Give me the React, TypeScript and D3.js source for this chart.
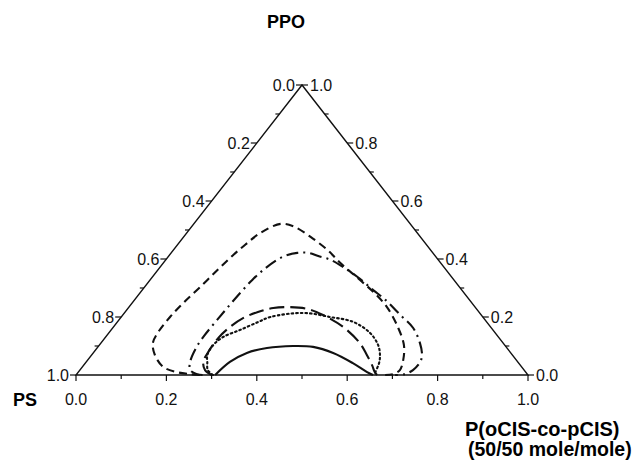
import * as d3 from 'd3';
import React, { useEffect, useRef } from 'react';

// ternary points as [oCIS fraction, PPO fraction]; PS = 1 - both
const solidCurve: [number, number][] = [
  [0.308, 0], [0.318, 0.045], [0.340, 0.076], [0.376, 0.093], [0.430, 0.100],
  [0.476, 0.097], [0.531, 0.076], [0.592, 0.041], [0.639, 0.010], [0.657, 0],
];

const dottedCurve: [number, number][] = [
  [0.303, 0], [0.283, 0.017], [0.268, 0.045], [0.256, 0.069], [0.252, 0.103],
  [0.260, 0.131], [0.285, 0.155], [0.312, 0.183], [0.330, 0.200], [0.396, 0.214],
  [0.462, 0.200], [0.522, 0.183], [0.578, 0.145], [0.617, 0.103], [0.638, 0.069],
  [0.650, 0.041], [0.658, 0.007], [0.660, 0],
];

const longDashCurve: [number, number][] = [
  [0.300, 0], [0.277, 0.017], [0.259, 0.045], [0.253, 0.079], [0.251, 0.128],
  [0.258, 0.166], [0.272, 0.197], [0.294, 0.217], [0.321, 0.231], [0.357, 0.234],
  [0.398, 0.228], [0.443, 0.207], [0.508, 0.166], [0.573, 0.110], [0.609, 0.069],
  [0.638, 0.034], [0.656, 0.010], [0.666, 0],
];

const dashDotCurve: [number, number][] = [
  [0.280, 0], [0.266, 0.003], [0.244, 0.017], [0.230, 0.045], [0.219, 0.093],
  [0.216, 0.134], [0.217, 0.183], [0.219, 0.234], [0.222, 0.286], [0.226, 0.328],
  [0.233, 0.362], [0.253, 0.407], [0.279, 0.421], [0.304, 0.421], [0.331, 0.410],
  [0.365, 0.397], [0.405, 0.372], [0.454, 0.338], [0.511, 0.293], [0.555, 0.259],
  [0.614, 0.207], [0.665, 0.162], [0.706, 0.110], [0.731, 0.069], [0.739, 0.045],
  [0.737, 0.017], [0.726, 0.003], [0.706, 0],
];

const dashedCurve: [number, number][] = [
  [0.274, 0], [0.250, 0.003], [0.218, 0.010], [0.179, 0.028], [0.140, 0.069],
  [0.115, 0.110], [0.108, 0.148], [0.108, 0.200], [0.113, 0.248], [0.123, 0.303],
  [0.132, 0.362], [0.141, 0.414], [0.150, 0.450], [0.163, 0.490], [0.192, 0.521],
  [0.226, 0.512], [0.281, 0.476], [0.341, 0.431], [0.392, 0.386], [0.454, 0.336],
  [0.515, 0.286], [0.571, 0.234], [0.632, 0.162], [0.674, 0.103], [0.698, 0.052],
  [0.708, 0.017], [0.700, 0.003], [0.684, 0],
];

const majorTicks = [0, 0.2, 0.4, 0.6, 0.8, 1.0];
const minorTicks = [0.1, 0.3, 0.5, 0.7, 0.9];

const App = () => {
  const chartRef = useRef<SVGSVGElement>(null);

  useEffect(() => {
    const svg = d3.select(chartRef.current);
    svg.selectAll('*').remove();

    // bottom edge runs 76..528, top vertex at y 85
    const x = d3.scaleLinear().domain([0, 1]).range([76, 528]);
    const y = d3.scaleLinear().domain([0, 1]).range([375, 85]);
    const px = (cis: number, ppo: number) => x(cis + ppo / 2);
    const py = (ppo: number) => y(ppo);

    const font = "'Liberation Sans', Arial, sans-serif";
    const g = svg.append('g');

    // triangle frame
    g.append('path')
      .attr('d', `M${px(0, 0)},${py(0)}L${px(1, 0)},${py(0)}L${px(0, 1)},${py(1)}Z`)
      .attr('fill', 'none')
      .attr('stroke', '#111')
      .attr('stroke-width', 1.4);

    // bottom axis (oCIS), ticks downward
    majorTicks.forEach((v) => {
      g.append('line')
        .attr('x1', px(v, 0)).attr('x2', px(v, 0))
        .attr('y1', py(0)).attr('y2', py(0) + 6)
        .attr('stroke', '#111').attr('stroke-width', 1.2);
      g.append('text')
        .attr('x', px(v, 0)).attr('y', 405)
        .attr('text-anchor', 'middle')
        .attr('font-family', font).attr('font-size', 16)
        .attr('fill', '#111')
        .text(v.toFixed(1));
    });
    minorTicks.forEach((v) => {
      g.append('line')
        .attr('x1', px(v, 0)).attr('x2', px(v, 0))
        .attr('y1', py(0)).attr('y2', py(0) + 4)
        .attr('stroke', '#111').attr('stroke-width', 1.2);
    });

    // left edge (PS), labels grow toward bottom-left, ticks point left
    majorTicks.forEach((v) => {
      const ex = px(0, 1 - v), ey = py(1 - v);
      g.append('line')
        .attr('x1', ex).attr('x2', ex - 6)
        .attr('y1', ey).attr('y2', ey)
        .attr('stroke', '#111').attr('stroke-width', 1.2);
      g.append('text')
        .attr('x', ex - 7).attr('y', ey + 6)
        .attr('text-anchor', 'end')
        .attr('font-family', font).attr('font-size', 16)
        .attr('fill', '#111')
        .text(v.toFixed(1));
    });
    minorTicks.forEach((v) => {
      const ex = px(0, 1 - v), ey = py(1 - v);
      g.append('line')
        .attr('x1', ex).attr('x2', ex - 4)
        .attr('y1', ey).attr('y2', ey)
        .attr('stroke', '#111').attr('stroke-width', 1.2);
    });

    // right edge (PPO), ticks point right
    majorTicks.forEach((v) => {
      const ex = px(1 - v, v), ey = py(v);
      g.append('line')
        .attr('x1', ex).attr('x2', ex + 6)
        .attr('y1', ey).attr('y2', ey)
        .attr('stroke', '#111').attr('stroke-width', 1.2);
      g.append('text')
        .attr('x', ex + 8).attr('y', ey + 6)
        .attr('text-anchor', 'start')
        .attr('font-family', font).attr('font-size', 16)
        .attr('fill', '#111')
        .text(v.toFixed(1));
    });
    minorTicks.forEach((v) => {
      const ex = px(1 - v, v), ey = py(v);
      g.append('line')
        .attr('x1', ex).attr('x2', ex + 4)
        .attr('y1', ey).attr('y2', ey)
        .attr('stroke', '#111').attr('stroke-width', 1.2);
    });

    // contour curves
    const line = d3.line<[number, number]>()
      .x((d) => px(d[0], d[1]))
      .y((d) => py(d[1]))
      .curve(d3.curveCatmullRom.alpha(0.5));

    const curves: { data: [number, number][]; dash: string | null }[] = [
      { data: solidCurve, dash: null },
      { data: dottedCurve, dash: '1.6 3' },
      { data: longDashCurve, dash: '15 6' },
      { data: dashDotCurve, dash: '12 5 2 5' },
      { data: dashedCurve, dash: '8 5' },
    ];
    curves.forEach((c) => {
      g.append('path')
        .attr('d', line(c.data))
        .attr('fill', 'none')
        .attr('stroke', '#111')
        .attr('stroke-width', 2.1)
        .attr('stroke-dasharray', c.dash)
        .attr('stroke-linecap', c.dash === '1.6 3' ? 'round' : 'butt');
    });

    // vertex titles
    g.append('text')
      .attr('x', 286).attr('y', 28)
      .attr('text-anchor', 'middle')
      .attr('font-family', font).attr('font-size', 18).attr('font-weight', 'bold')
      .text('PPO');
    g.append('text')
      .attr('x', 13).attr('y', 406)
      .attr('font-family', font).attr('font-size', 18).attr('font-weight', 'bold')
      .text('PS');
    g.append('text')
      .attr('x', 465).attr('y', 436)
      .attr('font-family', font).attr('font-size', 20).attr('font-weight', 'bold')
      .text('P(oCIS-co-pCIS)');
    g.append('text')
      .attr('x', 468).attr('y', 456)
      .attr('font-family', font).attr('font-size', 19.5).attr('font-weight', 'bold')
      .text('(50/50 mole/mole)');
  }, []);

  return (
    <svg
      ref={chartRef}
      width={644}
      height={462}
      style={{ position: 'absolute', left: 0, top: 0, background: '#fff' }}
    />
  );
};

export default App;
